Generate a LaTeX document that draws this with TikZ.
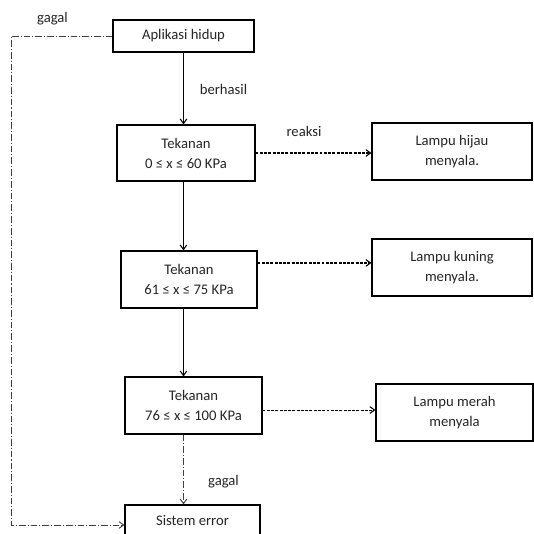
\documentclass[tikz,border=0pt]{standalone}
\usepackage{fontspec}
\setmainfont{Carlito}
\usetikzlibrary{arrows.meta,calc}
\begin{document}
\begin{tikzpicture}[x=0.75pt,y=-0.75pt,
  font=\fontsize{11}{15}\selectfont,
  box/.style={draw=black,line width=0.8pt,fill=white,align=center,inner sep=0pt,text=black!85},
  lbl/.style={inner sep=0pt,text=black!85},
  solidarrow/.style={line width=0.8pt,-{Straight Barb[length=3.5pt,width=5pt]}},
  dasharrow/.style={line width=0.8pt,dash pattern=on 2.2pt off 1pt,-{Straight Barb[length=3.5pt,width=5pt]}},
  dotarrow/.style={line width=0.7pt,draw=black!75,dash pattern=on 5pt off 1.5pt on 0.8pt off 1.5pt,-{Straight Barb[length=3.5pt,width=5pt]}}
]
\useasboundingbox (0,0) rectangle (534,534);
\clip (0,0) rectangle (534,534);
\fill[white] (0,0) rectangle (534,534);

\node[box,minimum width=105.75pt,minimum height=24pt] (app) at (183.5,36) {Aplikasi hidup};
\node[box,minimum width=103.5pt,minimum height=42pt] (tek1) at (186,153) {Tekanan\\0 ≤ x ≤ 60 KPa};
\node[box,minimum width=120pt,minimum height=42.75pt] (hijau) at (452,151.5) {Lampu hijau\\menyala.};
\node[box,minimum width=102pt,minimum height=42.75pt] (tek2) at (189,279.5) {Tekanan\\61 ≤ x ≤ 75 KPa};
\node[box,minimum width=120pt,minimum height=42.75pt] (kuning) at (452,267.5) {Lampu kuning\\menyala.};
\node[box,minimum width=102.75pt,minimum height=42.75pt] (tek3) at (193.5,405.5) {Tekanan\\76 ≤ x ≤ 100 KPa};
\node[box,minimum width=117.75pt,minimum height=42.75pt] (merah) at (454.5,412.5) {Lampu merah\\menyala};
\node[box,minimum width=101.25pt,minimum height=24pt] (sistem) at (192.5,521) {Sistem error};

\node[lbl] (lgagal1) at (52.5,19) {gagal};
\node[lbl] (lberhasil) at (223.5,89) {berhasil};
\node[lbl] (lreaksi) at (304,131) {reaksi};
\node[lbl] (lgagal2) at (223.5,482) {gagal};

\coordinate (c1) at (11,36);
\coordinate (c2) at (11,525);

\draw[solidarrow] (app.south) -- (app.south |- tek1.north);
\draw[solidarrow] (app.south |- tek1.south) -- (app.south |- tek2.north);
\draw[solidarrow] (app.south |- tek2.south) -- (app.south |- tek3.north);
\draw[dotarrow] (app.south |- tek3.south) -- (app.south |- sistem.north);

\draw[dasharrow] (tek1.east) -- (tek1.east -| hijau.west);
\draw[dasharrow] ([yshift=12.4pt]tek2.east) -- ([yshift=12.4pt]tek2.east -| kuning.west);
\draw[dasharrow] ([yshift=-3.4pt]tek3.east) -- ([yshift=-3.4pt]tek3.east -| merah.west);

\draw[dotarrow] (app.west) -- (c1) -- (c2) -- (c2 -| sistem.west);
\end{tikzpicture}
\end{document}
